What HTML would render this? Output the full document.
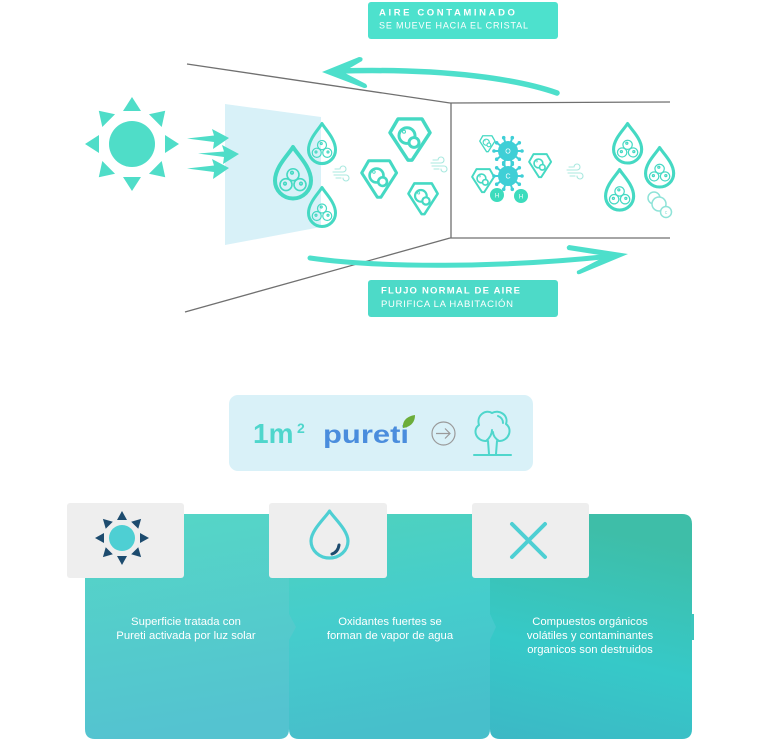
<!DOCTYPE html>
<html><head><meta charset="utf-8"><style>
html,body{margin:0;padding:0;background:#fff;}
svg{display:block;}
text{font-family:"Liberation Sans",sans-serif;}
</style></head><body>
<svg width="760" height="743" viewBox="0 0 760 743" xmlns="http://www.w3.org/2000/svg">
<defs>
  <g id="dr">
    <path d="M20,2 C24,9 38,22 38,36 A18,18 0 0 1 2,36 C2,22 16,9 20,2 Z" fill="none" stroke="#45d9c3" stroke-width="4" stroke-linejoin="round"/>
    <g fill="none" stroke="#45d9c3" stroke-width="1.6">
      <circle cx="20" cy="30" r="6"/><circle cx="13" cy="40" r="6"/><circle cx="27" cy="40" r="6"/>
      <circle cx="19" cy="28" r="1.3"/><circle cx="12" cy="39" r="1.3"/><circle cx="28" cy="39" r="1.3"/>
    </g>
  </g>
  <g id="gm">
    <path d="M10,2 H34 L42,16 L24,44 H20 L2,16 Z" fill="none" stroke="#45d9c3" stroke-width="3.5" stroke-linejoin="round"/>
    <circle cx="19" cy="19" r="8" fill="none" stroke="#45d9c3" stroke-width="3"/>
    <circle cx="26" cy="26" r="5" fill="#fff" stroke="#45d9c3" stroke-width="3"/>
    <circle cx="16" cy="15" r="1.5" fill="none" stroke="#45d9c3" stroke-width="1"/>
  </g>
  <g id="vr">
    <g stroke="#3fcfd6" stroke-width="2">
      <line x1="0" y1="0" x2="14" y2="0"/><line x1="0" y1="0" x2="11.3" y2="8.2"/><line x1="0" y1="0" x2="4.3" y2="13.3"/>
      <line x1="0" y1="0" x2="-4.3" y2="13.3"/><line x1="0" y1="0" x2="-11.3" y2="8.2"/><line x1="0" y1="0" x2="-14" y2="0"/>
      <line x1="0" y1="0" x2="-11.3" y2="-8.2"/><line x1="0" y1="0" x2="-4.3" y2="-13.3"/><line x1="0" y1="0" x2="4.3" y2="-13.3"/>
      <line x1="0" y1="0" x2="11.3" y2="-8.2"/>
    </g>
    <g fill="#3fcfd6">
      <circle cx="14" cy="0" r="1.8"/><circle cx="11.3" cy="8.2" r="1.8"/><circle cx="4.3" cy="13.3" r="1.8"/>
      <circle cx="-4.3" cy="13.3" r="1.8"/><circle cx="-11.3" cy="8.2" r="1.8"/><circle cx="-14" cy="0" r="1.8"/>
      <circle cx="-11.3" cy="-8.2" r="1.8"/><circle cx="-4.3" cy="-13.3" r="1.8"/><circle cx="4.3" cy="-13.3" r="1.8"/>
      <circle cx="11.3" cy="-8.2" r="1.8"/>
      <circle r="10"/>
    </g>
  </g>
  <g id="wd" fill="none" stroke="#a8e8df" stroke-width="1.1" stroke-linecap="round">
    <path d="M0,6 H10 A3,3 0 1 0 7,3"/>
    <path d="M1,9 H13 A3,3 0 1 1 10,12"/>
    <path d="M3,12 H8"/>
    <path d="M2,3 H6"/>
  </g>
  <linearGradient id="g1" x1="0" y1="0" x2="0.15" y2="1">
    <stop offset="0" stop-color="#55d7c6"/><stop offset="1" stop-color="#54c3d0"/>
  </linearGradient>
  <linearGradient id="g2" x1="0" y1="0" x2="0.15" y2="1">
    <stop offset="0" stop-color="#4fd2be"/><stop offset="0.5" stop-color="#45cdcc"/><stop offset="1" stop-color="#47bfcb"/>
  </linearGradient>
  <linearGradient id="g3" x1="0.2" y1="0" x2="0" y2="1">
    <stop offset="0" stop-color="#3ebea8"/><stop offset="0.55" stop-color="#36c9c8"/><stop offset="1" stop-color="#3cb8c5"/>
  </linearGradient>
</defs>

<!-- room lines -->
<g stroke="#707070" stroke-width="1.3" fill="none">
  <line x1="187" y1="64" x2="450" y2="103"/>
  <line x1="450" y1="103" x2="670" y2="102"/>
  <line x1="451" y1="103" x2="451" y2="238"/>
  <line x1="185" y1="312" x2="450" y2="238"/>
  <line x1="450" y1="238" x2="670" y2="238"/>
</g>

<!-- glass -->
<polygon points="225,104 321,117 321,227 225,245" fill="#d8f1f8"/>

<!-- top label -->
<rect x="368" y="2" width="190" height="37" rx="3" fill="#4de1cd"/>
<text x="379" y="15.5" font-size="9.5" font-weight="bold" fill="#fff" letter-spacing="2.6">AIRE CONTAMINADO</text>
<text x="379" y="28.5" font-size="9" fill="#fff" textLength="149">SE MUEVE HACIA EL CRISTAL</text>

<!-- top arrow -->
<path d="M557,93 C520,80 450,68 338,71" fill="none" stroke="#4ddfcb" stroke-width="5.5" stroke-linecap="round"/>
<path d="M322,72 L359,57 Q364,57 362,61 L343,72 L366,84 Q369,88 364,88 Z" fill="#4ddfcb"/>

<!-- bottom arrow -->
<path d="M310,258 C380,268 500,268 612,256" fill="none" stroke="#4ddfcb" stroke-width="5" stroke-linecap="round"/>
<path d="M628,254 L569,245 Q565,247 568,250 L606,256 L577,271 Q576,275 580,274 Z" fill="#4ddfcb"/>

<!-- bottom label -->
<rect x="368" y="280" width="190" height="37" rx="3" fill="#4ddac8"/>
<text x="381" y="293.5" font-size="9.5" font-weight="bold" fill="#fff" letter-spacing="1.2">FLUJO NORMAL DE AIRE</text>
<text x="381" y="307" font-size="9.5" fill="#fff" textLength="132">PURIFICA LA HABITACIÓN</text>

<!-- sun -->
<circle cx="132" cy="144" r="23" fill="#4fddc8"/>
<g fill="#4fddc8">
  <polygon points="132,97 123,111 141,111"/>
  <polygon points="132,97 123,111 141,111" transform="rotate(45 132 144)"/>
  <polygon points="132,97 123,111 141,111" transform="rotate(90 132 144)"/>
  <polygon points="132,97 123,111 141,111" transform="rotate(135 132 144)"/>
  <polygon points="132,97 123,111 141,111" transform="rotate(180 132 144)"/>
  <polygon points="132,97 123,111 141,111" transform="rotate(225 132 144)"/>
  <polygon points="132,97 123,111 141,111" transform="rotate(270 132 144)"/>
  <polygon points="132,97 123,111 141,111" transform="rotate(315 132 144)"/>
  <path d="M187,138.5 L214,135.5 L212,129 L229,138 L213,149 L214,142 Z"/>
  <path d="M198,153.5 L224,151.5 L222,145 L239,154 L223,164 L224,157 Z"/>
  <path d="M187,168.5 L214,165.5 L212,159 L229,168 L213,179 L214,172 Z"/>
</g>

<!-- left drops -->
<use href="#dr" transform="translate(273,145) scale(1,0.99)"/>
<use href="#dr" transform="translate(307,122) scale(0.75,0.77)"/>
<use href="#dr" transform="translate(307,186) scale(0.75,0.75)"/>

<!-- gems -->
<use href="#gm" transform="translate(388,117) scale(1,0.98)"/>
<use href="#gm" transform="translate(360,159) scale(0.87)"/>
<use href="#gm" transform="translate(407,182) scale(0.73)"/>
<use href="#gm" transform="translate(479,135) scale(0.38)"/>
<use href="#gm" transform="translate(528,153) scale(0.55)"/>
<use href="#gm" transform="translate(471,168) scale(0.55)"/>

<!-- wind -->
<use href="#wd" transform="translate(333,166)"/>
<use href="#wd" transform="translate(431,157)"/>
<use href="#wd" transform="translate(567,164)"/>

<!-- viruses -->
<use href="#vr" transform="translate(508,151)"/>
<use href="#vr" transform="translate(508,176)"/>
<text x="508" y="153.5" font-size="7" fill="#fff" text-anchor="middle">O</text>
<text x="508" y="178.5" font-size="7" fill="#fff" text-anchor="middle">C</text>
<circle cx="497" cy="195" r="7" fill="#3ddcbd"/>
<circle cx="521" cy="196" r="7" fill="#3ddcbd"/>
<text x="497" y="197.5" font-size="6" fill="#fff" text-anchor="middle">H</text>
<text x="521" y="198.5" font-size="6" fill="#fff" text-anchor="middle">H</text>

<!-- right drops -->
<use href="#dr" transform="translate(612,122) scale(0.78,0.76)"/>
<use href="#dr" transform="translate(644,146) scale(0.78,0.76)"/>
<use href="#dr" transform="translate(604,168) scale(0.78,0.78)"/>
<g fill="#fff" stroke="#8fe3d8" stroke-width="1.5">
  <circle cx="654" cy="198" r="6"/>
  <circle cx="659" cy="204" r="7"/>
  <circle cx="666" cy="212" r="5.5"/>
</g>
<text x="666" y="214" font-size="5" fill="#8fe3d8" text-anchor="middle">c</text>

<!-- info box -->
<rect x="229" y="395" width="304" height="76" rx="9" fill="#d9f1f8"/>
<text x="253" y="443" font-size="28" font-weight="bold" fill="#4fd6cc">1m</text>
<text x="297" y="433" font-size="14" font-weight="bold" fill="#4fd6cc">2</text>
<text x="323" y="443" font-size="25" font-weight="bold" fill="#4a8ddd" textLength="86" lengthAdjust="spacingAndGlyphs">pureti</text>
<path d="M403,428 C402,420 408,416 415,415 C415,423 410,427 403,428 Z" fill="#6cad3a"/>
<circle cx="443.5" cy="433.5" r="11.5" fill="none" stroke="#9a9a9a" stroke-width="1.2"/>
<path d="M436,433.5 H450 M445,428.5 L450,433.5 L445,438.5" fill="none" stroke="#9a9a9a" stroke-width="1.2"/>
<g fill="none" stroke="#4fd6cc" stroke-width="2" stroke-linecap="round" stroke-linejoin="round">
  <path d="M486,441 C476,441 472,430 479,425 C476,415 486,409 492,413 C499,409 509,415 506,424 C513,429 509,441 499,441"/>
  <path d="M488,441 L489,454 M497,441 L496,454 M486,441 Q492,436 492,430 M499,441 Q493,437 493,432"/>
  <path d="M498,416 Q503,418 503,423"/>
  <path d="M474,455 H511"/>
</g>

<!-- panels -->
<path d="M490,514 H682 Q692,514 692,524 V729 Q692,739 682,739 H500 Q490,739 490,729 Z" fill="url(#g3)"/>
<rect x="691" y="614" width="3" height="26" fill="#3cc6be"/>
<path d="M289,514 H490 V614 L496,627 L490,640 V729 Q490,739 480,739 H299 Q289,739 289,729 Z" fill="url(#g2)"/>
<path d="M85,514 H289 V614 L296,627 L289,640 V729 Q289,739 279,739 H95 Q85,739 85,729 Z" fill="url(#g1)"/>

<g font-size="11.3" fill="#fff" text-anchor="middle">
  <text x="186" y="625">Superficie tratada con</text>
  <text x="186" y="639">Pureti activada por luz solar</text>
  <text x="390" y="625">Oxidantes fuertes se</text>
  <text x="390" y="639">forman de vapor de agua</text>
  <text x="590" y="625">Compuestos orgánicos</text>
  <text x="590" y="639">volátiles y contaminantes</text>
  <text x="590" y="653">organicos son destruidos</text>
</g>

<!-- icon cards -->
<rect x="67" y="503" width="117" height="75" rx="3" fill="#eeeeee"/>
<rect x="269" y="503" width="118" height="75" rx="3" fill="#eeeeee"/>
<rect x="472" y="503" width="117" height="75" rx="3" fill="#eeeeee"/>

<circle cx="122" cy="538" r="13" fill="#4ecfd3"/>
<g fill="#1d4b6e">
  <polygon points="122,511 117,520 127,520"/>
  <polygon points="122,511 117,520 127,520" transform="rotate(45 122 538)"/>
  <polygon points="122,511 117,520 127,520" transform="rotate(90 122 538)"/>
  <polygon points="122,511 117,520 127,520" transform="rotate(135 122 538)"/>
  <polygon points="122,511 117,520 127,520" transform="rotate(180 122 538)"/>
  <polygon points="122,511 117,520 127,520" transform="rotate(225 122 538)"/>
  <polygon points="122,511 117,520 127,520" transform="rotate(270 122 538)"/>
  <polygon points="122,511 117,520 127,520" transform="rotate(315 122 538)"/>
</g>

<path d="M329.5,511 C333,517 348,530 348,541 A18.5,17 0 0 1 311,541 C311,530 326,517 329.5,511 Z" fill="none" stroke="#4ecfd3" stroke-width="3.2" stroke-linejoin="round"/>
<path d="M339,545 Q338,552 332,554" fill="none" stroke="#1d4b6e" stroke-width="3" stroke-linecap="round"/>

<g stroke="#4ecfd3" stroke-width="4" stroke-linecap="round">
  <line x1="512" y1="524" x2="545" y2="557"/>
  <line x1="545" y1="524" x2="512" y2="557"/>
</g>
</svg>
</body></html>
